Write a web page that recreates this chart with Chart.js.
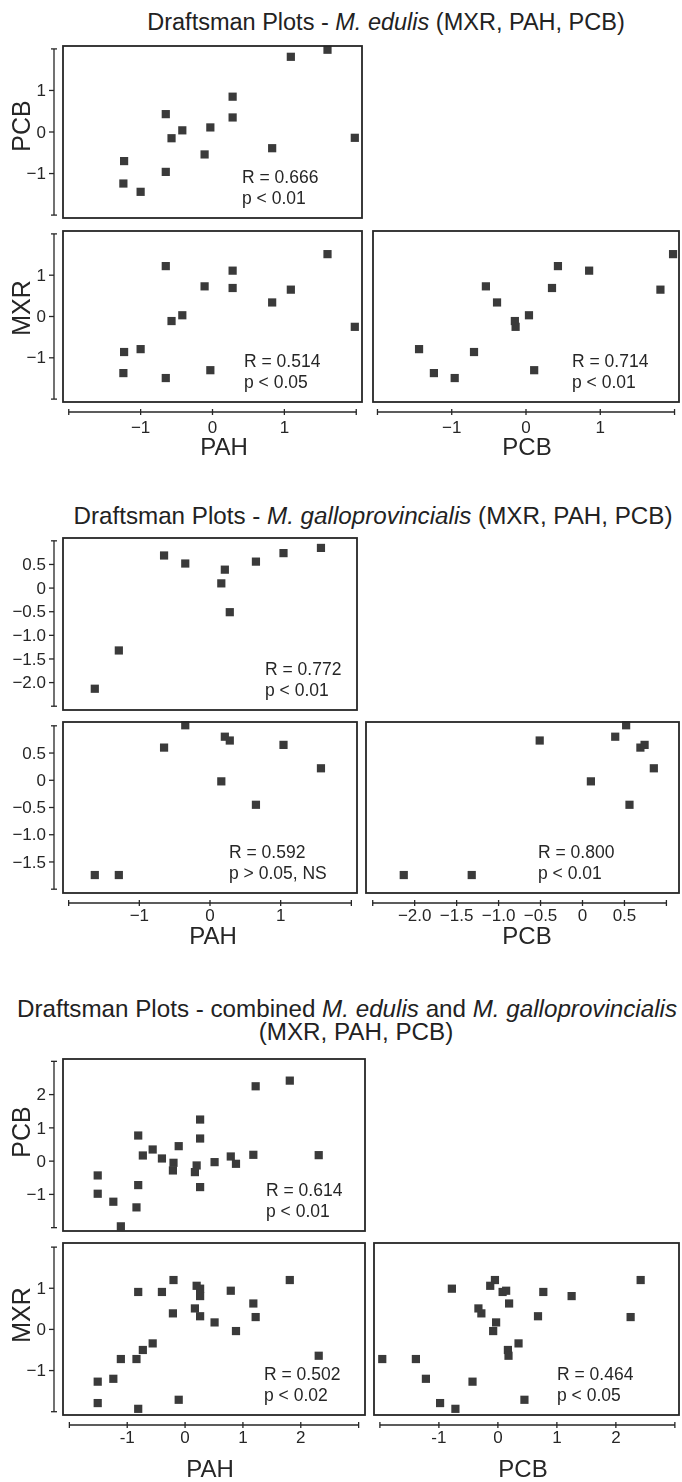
<!DOCTYPE html>
<html>
<head>
<meta charset="utf-8">
<script src="https://cdn.jsdelivr.net/npm/chart.js@4/dist/chart.umd.min.js"></script>
<style>
  html, body { margin:0; padding:0; background:#fff; }
  #page { position:relative; width:682px; height:1482px; overflow:hidden; }
  #page canvas { position:absolute; left:0; top:0; }
  .title { position:absolute; left:0; width:682px; text-align:center; white-space:nowrap;
           font:24.2px/23px "Liberation Sans", Arial, sans-serif; color:#222; }
</style>
</head>
<body>
<div id="page">
  <div class="title" style="top:11px;left:45px;font-size:23.5px">Draftsman Plots - <i>M. edulis</i> (MXR, PAH, PCB)</div>
  <div class="title" style="top:504px;left:32px">Draftsman Plots - <i>M. galloprovincialis</i> (MXR, PAH, PCB)</div>
  <div class="title" style="top:997px;left:6px">Draftsman Plots - combined <i>M. edulis</i> and <i>M. galloprovincialis</i></div>
  <div class="title" style="top:1020px;left:15px">(MXR, PAH, PCB)</div>
</div>
<script>
// ── standardised values, one entry per mussel sample ─────────────────────────
// M. edulis
const ED_PAH = [1.09, 1.60, 0.28, 0.28, -0.65, -0.42, -0.03, -0.57, 1.98, 0.83, -0.11, -1.23, -0.65, -1.24, -1.00];
const ED_PCB = [1.81, 1.98, 0.85, 0.35, 0.43, 0.04, 0.11, -0.15, -0.14, -0.39, -0.54, -0.70, -0.96, -1.24, -1.44];
const ED_MXR = [0.65, 1.51, 1.11, 0.69, 1.22, 0.03, -1.30, -0.11, -0.25, 0.34, 0.73, -0.86, -1.49, -1.37, -0.79];

// M. galloprovincialis
const GP_PAH = [-0.35, 0.21, 0.28, -0.65, 1.04, 1.57, 0.16, 0.65, -1.63, -1.29];
const GP_PCB = [0.52, 0.39, -0.51, 0.69, 0.74, 0.85, 0.10, 0.56, -2.13, -1.32];
const GP_MXR = [1.01, 0.80, 0.73, 0.60, 0.65, 0.22, -0.02, -0.45, -1.74, -1.74];

// both species combined
const CB_PAH = [-0.20, -0.81, -0.40, 0.20, 0.26, 0.26, 0.79, 1.81, 1.18, -0.21, 0.17, 0.26, 0.51,
                1.22, 0.88, -0.56, -0.73, -0.84, -1.11, -1.24, -1.51, -1.51, -0.81, -0.11, 2.31];
const CB_PCB = [-0.05, 0.77, 0.08, -0.13, -0.78, 1.25, 0.14, 2.42, 0.19, -0.28, -0.33, 0.68, -0.03,
                2.25, -0.08, 0.35, 0.17, -1.39, -1.96, -1.22, -0.43, -0.98, -0.72, 0.45, 0.18];
const CB_MXR = [1.20, 0.91, 0.91, 1.06, 0.99, 0.81, 0.94, 1.20, 0.63, 0.39, 0.51, 0.32, 0.17,
                0.30, -0.04, -0.34, -0.50, -0.72, -0.72, -1.20, -1.27, -1.79, -1.93, -1.71, -0.64];

// tick values and their labels
const TICKS_UNIT   = [-1, 0, 1];
const LABELS_UNIT  = ["−1", "0", "1"];
const TICKS_GP_PCB = [-2, -1.5, -1, -0.5, 0, 0.5];
const LABELS_GP_PCB = ["−2.0", "−1.5", "−1.0", "−0.5", "0", "0.5"];
const TICKS_GP_MXR = [-1.5, -1, -0.5, 0, 0.5];
const LABELS_GP_MXR = ["−1.5", "−1.0", "−0.5", "0", "0.5"];
const TICKS_CB     = [-1, 0, 1, 2];
const LABELS_CB_X  = ["-1", "0", "1", "2"];
const LABELS_CB_Y  = ["−1", "0", "1", "2"];

const INK = "#262626", MARK = "#3a3a3a";
const FONT = "'Liberation Sans', Arial, sans-serif";

// one entry per scatter box: pixel box, value range of the box, axes drawn beside it
const PANELS = [
  // M. edulis
  { box:[63,46,362,218], x:ED_PAH, y:ED_PCB, xr:[-2.08,2.08], yr:[-2.07,2.07],
    yAxis:{ span:[-2,2], ticks:TICKS_UNIT, labels:LABELS_UNIT, title:"PCB", titleY:126 },
    stat:["R = 0.666", "p < 0.01"], statX:179 },
  { box:[63,231,362,402], x:ED_PAH, y:ED_MXR, xr:[-2.08,2.08], yr:[-2.07,2.07],
    yAxis:{ span:[-2,2], ticks:TICKS_UNIT, labels:LABELS_UNIT, title:"MXR", titleY:308 },
    xAxis:{ span:[-2,2], ticks:TICKS_UNIT, labels:LABELS_UNIT, labelY:428, title:"PAH", titleX:224, titleY:448 },
    stat:["R = 0.514", "p < 0.05"], statX:181 },
  { box:[373,231,679,402], x:ED_PCB, y:ED_MXR, xr:[-2.06,2.06], yr:[-2.07,2.07],
    xAxis:{ span:[-2,2], ticks:TICKS_UNIT, labels:LABELS_UNIT, labelY:428, title:"PCB", titleX:527, titleY:448 },
    stat:["R = 0.714", "p < 0.01"], statX:199 },

  // M. galloprovincialis
  { box:[63,538,357,710], x:GP_PAH, y:GP_PCB, xr:[-2.08,2.08], yr:[-2.58,1.06],
    yAxis:{ span:[-2.5,1], ticks:TICKS_GP_PCB, labels:LABELS_GP_PCB },
    stat:["R = 0.772", "p < 0.01"], statX:202 },
  { box:[63,722,357,893], x:GP_PAH, y:GP_MXR, xr:[-2.08,2.08], yr:[-2.07,1.07],
    yAxis:{ span:[-2,1], ticks:TICKS_GP_MXR, labels:LABELS_GP_MXR },
    xAxis:{ span:[-2,2], ticks:TICKS_UNIT, labels:LABELS_UNIT, labelY:916, title:"PAH", titleX:213, titleY:937 },
    stat:["R = 0.592", "p > 0.05, NS"], statX:166 },
  { box:[366,722,679,893], x:GP_PCB, y:GP_MXR, xr:[-2.58,1.15], yr:[-2.07,1.07],
    xAxis:{ span:[-2.5,1], ticks:TICKS_GP_PCB, labels:LABELS_GP_PCB, labelY:916, title:"PCB", titleX:527, titleY:937 },
    stat:["R = 0.800", "p < 0.01"], statX:172 },

  // combined
  { box:[63,1059,365,1231], x:CB_PAH, y:CB_PCB, xr:[-2.11,3.11], yr:[-2.1,3.07],
    yAxis:{ span:[-2,3], ticks:TICKS_CB, labels:LABELS_CB_Y, title:"PCB", titleY:1132 },
    stat:["R = 0.614", "p < 0.01"], statX:203 },
  { box:[63,1243,365,1415], x:CB_PAH, y:CB_MXR, xr:[-2.11,3.11], yr:[-2.08,2.1],
    yAxis:{ span:[-2,2], ticks:TICKS_UNIT, labels:LABELS_UNIT, title:"MXR", titleY:1315 },
    xAxis:{ span:[-2,3], ticks:TICKS_CB, labels:LABELS_CB_X, labelY:1438, title:"PAH", titleX:210, titleY:1470 },
    stat:["R = 0.502", "p < 0.02"], statX:201 },
  { box:[374,1243,679,1415], x:CB_PCB, y:CB_MXR, xr:[-2.1,3.07], yr:[-2.08,2.1],
    xAxis:{ span:[-2,3], ticks:TICKS_CB, labels:LABELS_CB_X, labelY:1438, title:"PCB", titleX:523, titleY:1470 },
    stat:["R = 0.464", "p < 0.05"], statX:183 },
];

function seg(ctx, x0, y0, x1, y1){
  ctx.beginPath(); ctx.moveTo(x0, y0); ctx.lineTo(x1, y1); ctx.stroke();
}

function drawYAxis(ctx, s, ax, a){
  const X = a.left - 9;
  const y0 = s.getPixelForValue(ax.span[0]), y1 = s.getPixelForValue(ax.span[1]);
  ctx.lineWidth = 1.3;
  seg(ctx, X, y0, X, y1);
  seg(ctx, X - 3, y0, X + 3, y0);
  seg(ctx, X - 3, y1, X + 3, y1);
  ctx.font = "17px " + FONT; ctx.textAlign = "right"; ctx.textBaseline = "middle";
  ax.ticks.forEach((v, i) => {
    const py = s.getPixelForValue(v);
    seg(ctx, X - 5, py, X, py);
    ctx.fillText(ax.labels[i], X - 8, py + 1);
  });
  if (ax.title){
    ctx.save();
    ctx.translate(23, ax.titleY); ctx.rotate(-Math.PI / 2);
    ctx.font = "25px " + FONT; ctx.textAlign = "center";
    ctx.fillText(ax.title, 0, 0);
    ctx.restore();
  }
}

function drawXAxis(ctx, s, ax, a){
  const Y = a.bottom + 10;
  const x0 = s.getPixelForValue(ax.span[0]), x1 = s.getPixelForValue(ax.span[1]);
  ctx.lineWidth = 1.3;
  seg(ctx, x0, Y, x1, Y);
  [ax.span[0], ...ax.ticks, ax.span[1]].forEach(v => {
    const px = s.getPixelForValue(v);
    seg(ctx, px, Y - 3, px, Y + 3);
  });
  ctx.font = "17px " + FONT; ctx.textAlign = "center"; ctx.textBaseline = "middle";
  ax.ticks.forEach((v, i) => ctx.fillText(ax.labels[i], s.getPixelForValue(v), ax.labelY));
  ctx.font = "24px " + FONT;
  ctx.fillText(ax.title, ax.titleX, ax.titleY);
}

function framePlugin(p){
  return {
    id: "frame",
    afterDatasetsDraw(chart){
      const { ctx, chartArea:a, scales } = chart;
      ctx.save();
      ctx.strokeStyle = INK; ctx.fillStyle = INK;
      ctx.lineWidth = 1.8;
      ctx.strokeRect(a.left, a.top, a.right - a.left, a.bottom - a.top);
      ctx.font = "17.5px " + FONT; ctx.textAlign = "left"; ctx.textBaseline = "alphabetic";
      ctx.fillText(p.stat[0], a.left + p.statX, a.bottom - 35);
      ctx.fillText(p.stat[1], a.left + p.statX, a.bottom - 14);
      if (p.yAxis) drawYAxis(ctx, scales.y, p.yAxis, a);
      if (p.xAxis) drawXAxis(ctx, scales.x, p.xAxis, a);
      ctx.restore();
    }
  };
}

const page = document.getElementById("page");
const W = 682, H = 1482;

PANELS.forEach(p => {
  const cv = document.createElement("canvas");
  cv.width = W; cv.height = H;
  page.appendChild(cv);
  const [l, t, r, b] = p.box;
  new Chart(cv, {
    type: "scatter",
    data: { datasets: [{
      data: p.x.map((v, i) => ({ x: v, y: p.y[i] })),
      pointStyle: "rect", pointRadius: 5.8, pointHoverRadius: 5.8,
      backgroundColor: MARK, borderWidth: 0, clip: false,
    }] },
    options: {
      responsive: false, animation: false, devicePixelRatio: 1,
      events: [],
      layout: { autoPadding: false, padding: { left: l, top: t, right: W - r, bottom: H - b } },
      scales: {
        x: { type: "linear", display: false, min: p.xr[0], max: p.xr[1] },
        y: { type: "linear", display: false, min: p.yr[0], max: p.yr[1] },
      },
      plugins: { legend: { display: false }, tooltip: { enabled: false } },
    },
    plugins: [framePlugin(p)],
  });
});
</script>
</body>
</html>
